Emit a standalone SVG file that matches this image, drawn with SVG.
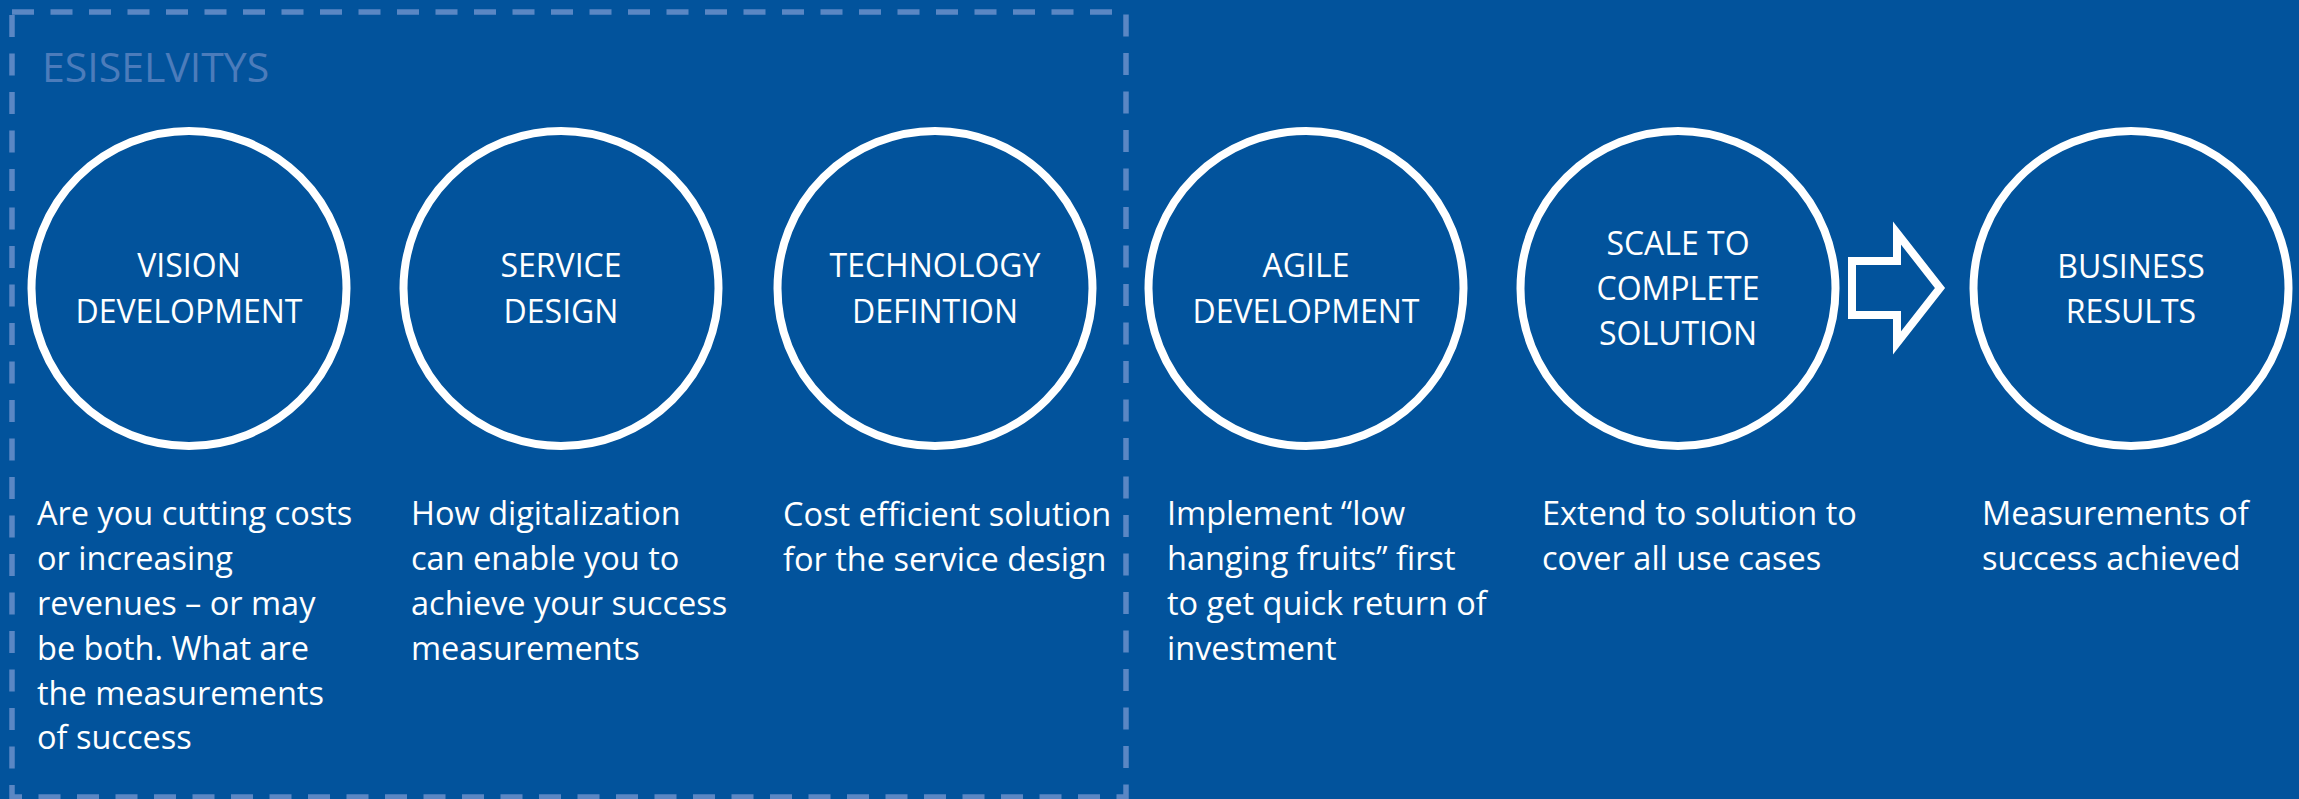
<svg xmlns="http://www.w3.org/2000/svg" width="2299" height="799" viewBox="0 0 2299 799">
  <style>
    .ring { fill: none; stroke: #ffffff; stroke-width: 8; }
    .lbl { font-family: "Open Sans", "Noto Sans", sans-serif; font-size: 32px; fill: #ffffff; text-anchor: middle; }
    .desc { font-family: "Open Sans", "Noto Sans", sans-serif; font-size: 32.5px; fill: #ffffff; }
    .frame { fill: none; stroke: #5a87c4; stroke-width: 5.5; stroke-dasharray: 22 16.5; }
    .title { font-family: "Open Sans", "Noto Sans", sans-serif; font-size: 41px; fill: #4c7cbb; }
  </style>
  <rect x="0" y="0" width="2299" height="799" fill="#02539c"/>

  <g id="esiselvitys">
    <path class="frame" d="M12,12 L1126,12 L1126,797 L12,797 Z"/>
    <text class="title" x="42" y="82">ESISELVITYS</text>
  </g>

  <g id="vision-development">
    <circle class="ring" cx="189" cy="288.5" r="157.5"/>
    <text class="lbl" x="189" y="277">VISION</text>
    <text class="lbl" x="189" y="323">DEVELOPMENT</text>
    <g class="desc">
      <text x="37" y="525">Are you cutting costs</text>
      <text x="37" y="570">or increasing</text>
      <text x="37" y="615">revenues – or may</text>
      <text x="37" y="660">be both. What are</text>
      <text x="37" y="705">the measurements</text>
      <text x="37" y="749">of success</text>
    </g>
  </g>

  <g id="service-design">
    <circle class="ring" cx="561" cy="288.5" r="157.5"/>
    <text class="lbl" x="561" y="277">SERVICE</text>
    <text class="lbl" x="561" y="323">DESIGN</text>
    <g class="desc">
      <text x="411" y="525">How digitalization</text>
      <text x="411" y="570">can enable you to</text>
      <text x="411" y="615">achieve your success</text>
      <text x="411" y="660">measurements</text>
    </g>
  </g>

  <g id="technology-defintion">
    <circle class="ring" cx="935" cy="288.5" r="157.5"/>
    <text class="lbl" x="935" y="277">TECHNOLOGY</text>
    <text class="lbl" x="935" y="323">DEFINTION</text>
    <g class="desc">
      <text x="783" y="526">Cost efficient solution</text>
      <text x="783" y="571">for the service design</text>
    </g>
  </g>

  <g id="agile-development">
    <circle class="ring" cx="1306" cy="288.5" r="157.5"/>
    <text class="lbl" x="1306" y="277">AGILE</text>
    <text class="lbl" x="1306" y="323">DEVELOPMENT</text>
    <g class="desc">
      <text x="1167" y="525">Implement “low</text>
      <text x="1167" y="570">hanging fruits” first</text>
      <text x="1167" y="615">to get quick return of</text>
      <text x="1167" y="660">investment</text>
    </g>
  </g>

  <g id="scale-to-complete-solution">
    <circle class="ring" cx="1678" cy="288.5" r="157.5"/>
    <text class="lbl" x="1678" y="255">SCALE TO</text>
    <text class="lbl" x="1678" y="300">COMPLETE</text>
    <text class="lbl" x="1678" y="345">SOLUTION</text>
    <g class="desc">
      <text x="1542" y="525">Extend to solution to</text>
      <text x="1542" y="570">cover all use cases</text>
    </g>
  </g>

  <g id="business-results">
    <circle class="ring" cx="2131" cy="288.5" r="157.5"/>
    <text class="lbl" x="2131" y="278">BUSINESS</text>
    <text class="lbl" x="2131" y="323">RESULTS</text>
    <g class="desc">
      <text x="1982" y="525">Measurements of</text>
      <text x="1982" y="570">success achieved</text>
    </g>
  </g>

  <g id="connectors">
    <polygon points="1852,261 1897,261 1897,233 1940,288 1897,343 1897,315 1852,315" fill="none" stroke="#ffffff" stroke-width="8" stroke-linejoin="miter"/>
  </g>
</svg>
